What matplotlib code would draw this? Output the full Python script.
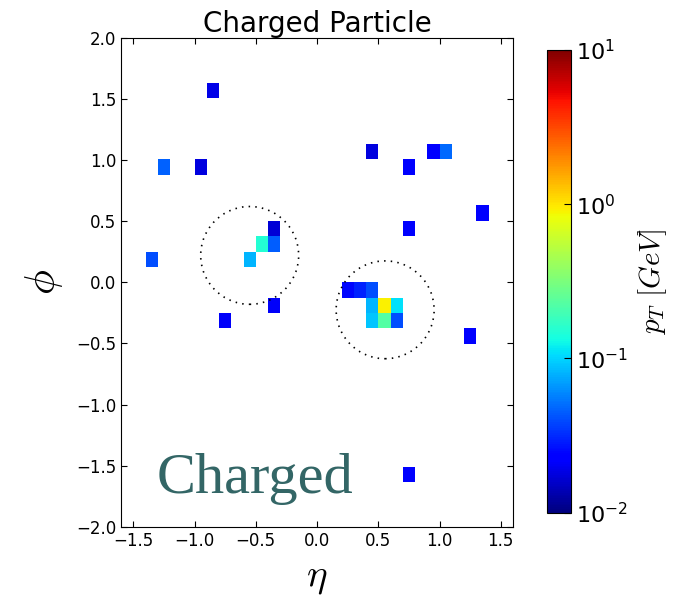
import numpy as np
import matplotlib
matplotlib.use("Agg")
import matplotlib.pyplot as plt
from matplotlib.colors import LogNorm
from matplotlib.patches import Circle

plt.rcParams.update({
    "xtick.direction": "in", "ytick.direction": "in",
    "xtick.top": True, "ytick.right": True,
    "xtick.major.size": 4, "ytick.major.size": 4,
    "font.size": 12,
})

# ---- data ----
eta = [-0.85, -1.25, -0.95, -1.35, -0.35, -0.45, -0.35, -0.55, -0.75, -0.35,
       0.45, 0.95, 1.05, 0.75, 1.35, 0.75,
       0.25, 0.35, 0.45, 0.45, 0.55, 0.65, 0.45, 0.55, 0.65,
       1.25, 0.75]
phi = [1.57, 0.94, 0.94, 0.19, 0.44, 0.31, 0.31, 0.19, -0.31, -0.19,
       1.07, 1.07, 1.07, 0.94, 0.57, 0.44,
       -0.06, -0.06, -0.06, -0.19, -0.19, -0.19, -0.31, -0.31, -0.31,
       -0.44, -1.57]
pt = [0.019, 0.046, 0.018, 0.040, 0.017, 0.150, 0.045, 0.080, 0.021, 0.021,
      0.018, 0.022, 0.048, 0.022, 0.022, 0.022,
      0.025, 0.030, 0.040, 0.082, 0.920, 0.108, 0.091, 0.224, 0.040,
      0.022, 0.022]
jet_centers_eta = [-0.55, 0.556]
jet_centers_phi = [0.22, -0.225]
jet_radius = 0.4

eta_edges = np.linspace(-1.6, 1.6, 33)
phi_edges = -np.pi + np.arange(51) * 2 * np.pi / 50

H, xe, ye = np.histogram2d(eta, phi, bins=[eta_edges, phi_edges], weights=pt)
H = np.ma.masked_where(H <= 0, H)

fig = plt.figure(figsize=(6.84, 6.0), dpi=100)
ax = fig.add_axes([0.177, 0.122, 0.573, 0.815])
mesh = ax.pcolormesh(xe, ye, H.T, cmap="jet", norm=LogNorm(vmin=1e-2, vmax=1e1))

for cx, cy in zip(jet_centers_eta, jet_centers_phi):
    ax.add_patch(Circle((cx, cy), jet_radius, fill=False, color="black",
                        lw=1.2, ls=(0, (0.9, 3.1))))

ax.set_xlim(-1.6, 1.6)
ax.set_ylim(-2.0, 2.0)
ax.set_xticks(np.arange(-1.5, 1.51, 0.5))
ax.set_yticks(np.arange(-2.0, 2.01, 0.5))
ax.set_title("Charged Particle", fontsize=20, pad=4)
ax.set_xlabel(r"$\eta$", fontsize=28, math_fontfamily="cm", labelpad=6)
ax.set_ylabel(r"$\phi$", fontsize=30, math_fontfamily="cm", labelpad=8)
ax.text(0.09, 0.07, "Charged", transform=ax.transAxes, fontsize=42,
        family="Liberation Serif", color="#336666", ha="left", va="baseline")

cax = fig.add_axes([0.7995, 0.1455, 0.035, 0.7715])
cb = fig.colorbar(mesh, cax=cax)
cb.ax.tick_params(labelsize=16, direction="in", length=5)
cb.ax.minorticks_off()
cb.set_label(r"$p_T\ [GeV]$", fontsize=21, math_fontfamily="cm", labelpad=6)

fig.savefig("out.png", dpi=100)
